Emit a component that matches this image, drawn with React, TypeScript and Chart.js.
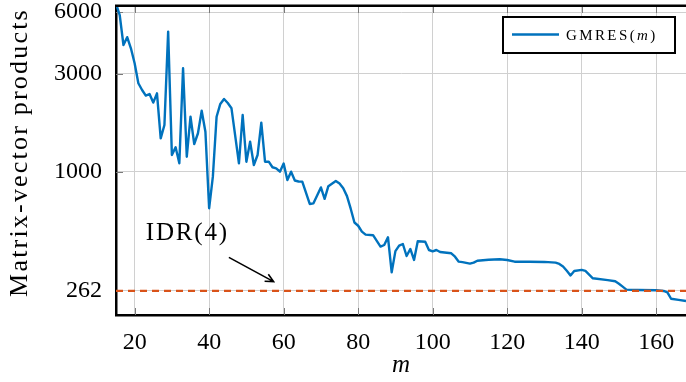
import React, { useEffect, useRef } from "react";
import { Chart, registerables } from "chart.js";

Chart.register(...registerables);

// ---- data ----
const mValues = [
  15, 16, 17, 18, 19, 20, 21, 22, 23, 24, 25, 26, 27, 28, 29, 30, 31, 32, 33, 34,
  35, 36, 37, 38, 39, 40, 41, 42, 43, 44, 45, 46, 48, 49, 50, 51, 52, 53, 54, 55,
  56, 57, 58, 59, 60, 61, 62, 63, 64, 65, 67, 68, 70, 71, 72, 74, 75, 76, 77, 78,
  79, 80, 81, 82, 84, 86, 87, 88, 89, 90, 91, 92, 93, 94, 95, 96, 98, 99, 100, 101,
  102, 105, 106, 107, 108, 110, 111, 112, 115, 118, 120, 122, 126, 130, 133, 134, 135, 136, 137, 138,
  140, 141, 143, 147, 149, 150, 151, 152, 155, 160, 162, 163, 164, 166, 168,
];
const gmresProducts = [
  6600, 5810, 4150, 4530, 4000, 3380, 2700, 2503, 2350, 2393, 2173, 2411, 1455, 1690, 4820, 1206, 1315, 1099, 3194, 1183,
  1854, 1365, 1540, 1984, 1567, 663, 946, 1854, 2140, 2263, 2163, 2038, 1099, 1891, 1119, 1400, 1078, 1206, 1734, 1119,
  1119, 1051, 1039, 1000, 1096, 911, 1000, 906, 896, 894, 696, 701, 838, 737, 850, 900, 875, 830, 760, 660,
  565, 545, 510, 493, 490, 431, 439, 479, 323, 410, 436, 444, 388, 420, 371, 458, 455, 415, 409, 415,
  406, 400, 385, 364, 362, 356, 360, 368, 372, 374, 371, 364, 364, 363, 360, 355, 345, 329, 312, 328,
  332, 328, 302, 296, 292, 284, 275, 266, 265, 264, 262, 258, 240, 237, 234,
];
const idrProducts = 262;
const xTickValues = [20, 40, 60, 80, 100, 120, 140, 160];
const yTickValues = [262, 1000, 3000, 6000];
const xLimits = [15, 168];
const yLimits = [200, 6430];

// annotation anchors in data units
const idrLabel = { m: 23, value: 464, text: "IDR(4)" };
const arrowFrom = { m: 45.3, value: 382 };
const arrowTo = { m: 57.3, value: 291 };

const SERIF = "'Liberation Serif', 'Times New Roman', serif";
const BLUE = "#0072bd";
const ORANGE = "#d95319";

const framePlugin = {
  id: "frame",
  beforeDatasetsDraw(chart: any) {
    const { ctx, chartArea: a, scales } = chart;
    ctx.save();
    ctx.strokeStyle = "#7a7a7a";
    ctx.lineWidth = 1;
    ctx.beginPath();
    for (const v of xTickValues) {
      const px = Math.round(scales.x.getPixelForValue(v)) + 0.5;
      ctx.moveTo(px, a.bottom);
      ctx.lineTo(px, a.bottom - 7);
      ctx.moveTo(px, a.top);
      ctx.lineTo(px, a.top + 7);
    }
    for (const v of yTickValues) {
      const py = Math.round(scales.y.getPixelForValue(v)) + 0.5;
      ctx.moveTo(a.left, py);
      ctx.lineTo(a.left + 7, py);
    }
    ctx.stroke();
    ctx.restore();
  },
  afterDraw(chart: any) {
    const { ctx, chartArea: a, scales } = chart;
    ctx.save();
    // top border
    ctx.fillStyle = "#000";
    ctx.fillRect(a.left - 1, a.top - 1.5, a.right - a.left + 1, 2.5);

    // y axis title
    ctx.save();
    ctx.translate(20, (a.top + a.bottom) / 2 - 8);
    ctx.rotate(-Math.PI / 2);
    ctx.font = `26px ${SERIF}`;
    (ctx as any).letterSpacing = "2.2px";
    ctx.textAlign = "center";
    ctx.textBaseline = "middle";
    ctx.fillStyle = "#000";
    ctx.fillText("Matrix-vector products", 0, 0);
    ctx.restore();

    // legend
    const bx = a.right - 11 - 172;
    const by = a.top + 11;
    const bw = 172;
    const bh = 36;
    ctx.fillStyle = "#fff";
    ctx.fillRect(bx, by, bw, bh);
    ctx.strokeStyle = "#000";
    ctx.lineWidth = 2;
    ctx.strokeRect(bx, by, bw, bh);
    ctx.strokeStyle = BLUE;
    ctx.lineWidth = 2.4;
    ctx.beginPath();
    ctx.moveTo(bx + 9, by + 17.5);
    ctx.lineTo(bx + 56, by + 17.5);
    ctx.stroke();
    ctx.fillStyle = "#000";
    ctx.textBaseline = "alphabetic";
    ctx.textAlign = "left";
    (ctx as any).letterSpacing = "2.4px";
    let tx = bx + 63;
    const ty = by + 23;
    ctx.font = `15px ${SERIF}`;
    ctx.fillText("GMRES(", tx, ty);
    tx += ctx.measureText("GMRES(").width;
    ctx.font = `italic 15px ${SERIF}`;
    ctx.fillText("m", tx, ty);
    tx += ctx.measureText("m").width;
    ctx.font = `15px ${SERIF}`;
    ctx.fillText(")", tx, ty);
    (ctx as any).letterSpacing = "0px";

    // annotation
    const lx = scales.x.getPixelForValue(idrLabel.m);
    const ly = scales.y.getPixelForValue(idrLabel.value);
    ctx.font = `25px ${SERIF}`;
    (ctx as any).letterSpacing = "1.8px";
    ctx.fillStyle = "#000";
    ctx.fillText(idrLabel.text, lx, ly);
    (ctx as any).letterSpacing = "0px";

    const x1 = scales.x.getPixelForValue(arrowFrom.m);
    const y1 = scales.y.getPixelForValue(arrowFrom.value);
    const x2 = scales.x.getPixelForValue(arrowTo.m);
    const y2 = scales.y.getPixelForValue(arrowTo.value);
    ctx.strokeStyle = "#000";
    ctx.lineWidth = 1.6;
    ctx.beginPath();
    ctx.moveTo(x1, y1);
    ctx.lineTo(x2, y2);
    const ang = Math.atan2(y2 - y1, x2 - x1);
    const hl = 9;
    ctx.moveTo(x2 - hl * Math.cos(ang - 0.45), y2 - hl * Math.sin(ang - 0.45));
    ctx.lineTo(x2, y2);
    ctx.lineTo(x2 - hl * Math.cos(ang + 0.45), y2 - hl * Math.sin(ang + 0.45));
    ctx.stroke();
    ctx.restore();
  },
};

export default function App() {
  const canvasRef = useRef<HTMLCanvasElement | null>(null);

  useEffect(() => {
    const canvas = canvasRef.current;
    if (!canvas) return;
    const gmresData = mValues.map((m, i) => ({ x: m, y: gmresProducts[i] }));
    const idrData = [
      { x: xLimits[0], y: idrProducts },
      { x: xLimits[1], y: idrProducts },
    ];
    const chart = new Chart(canvas, {
      type: "line",
      data: {
        datasets: [
          {
            label: "IDR(4)",
            data: idrData,
            borderColor: ORANGE,
            borderWidth: 2.2,
            borderDash: [7, 5],
            pointRadius: 0,
            fill: false,
          },
          {
            label: "GMRES(m)",
            data: gmresData,
            borderColor: BLUE,
            borderWidth: 2.4,
            borderJoinStyle: "round",
            pointRadius: 0,
            tension: 0,
            fill: false,
          },
        ],
      },
      options: {
        animation: false,
        responsive: false,
        devicePixelRatio: 1,
        layout: { padding: { top: 6, right: 0, left: 0, bottom: 0 } },
        plugins: {
          legend: { display: false },
          tooltip: { enabled: false },
        },
        scales: {
          x: {
            type: "linear",
            min: xLimits[0],
            max: xLimits[1],
            afterBuildTicks: (s: any) => {
              s.ticks = xTickValues.map((v) => ({ value: v }));
            },
            afterFit: (s: any) => {
              s.height = 67;
              s.paddingLeft = 0;
              s.paddingRight = 0;
            },
            grid: { color: "#d0d0d0", lineWidth: 1, drawTicks: false },
            border: { display: true, color: "#000", width: 2.5 },
            ticks: {
              padding: 13,
              color: "#000",
              font: { family: SERIF, size: 24 },
              maxRotation: 0,
              autoSkip: false,
              callback: (v: any) => String(v),
            },
            title: {
              display: true,
              text: "m",
              color: "#000",
              font: { family: SERIF, size: 25, style: "italic" },
              padding: { top: 0, bottom: 2 },
            },
          },
          y: {
            type: "logarithmic",
            min: yLimits[0],
            max: yLimits[1],
            afterBuildTicks: (s: any) => {
              s.ticks = yTickValues.map((v) => ({ value: v }));
            },
            afterFit: (s: any) => {
              s.width = 116;
              s.paddingTop = 0;
              s.paddingBottom = 0;
            },
            grid: { color: "#d0d0d0", lineWidth: 1, drawTicks: false },
            border: { display: true, color: "#000", width: 2.5 },
            ticks: {
              padding: 14,
              color: "#000",
              font: { family: SERIF, size: 24 },
              autoSkip: false,
              callback: (v: any) => String(v),
            },
          },
        },
      },
      plugins: [framePlugin],
    });
    return () => chart.destroy();
  }, []);

  return (
    <div style={{ position: "absolute", left: 0, top: 0, width: 686, height: 382 }}>
      <canvas ref={canvasRef} width={686} height={382} style={{ display: "block" }} />
    </div>
  );
}
